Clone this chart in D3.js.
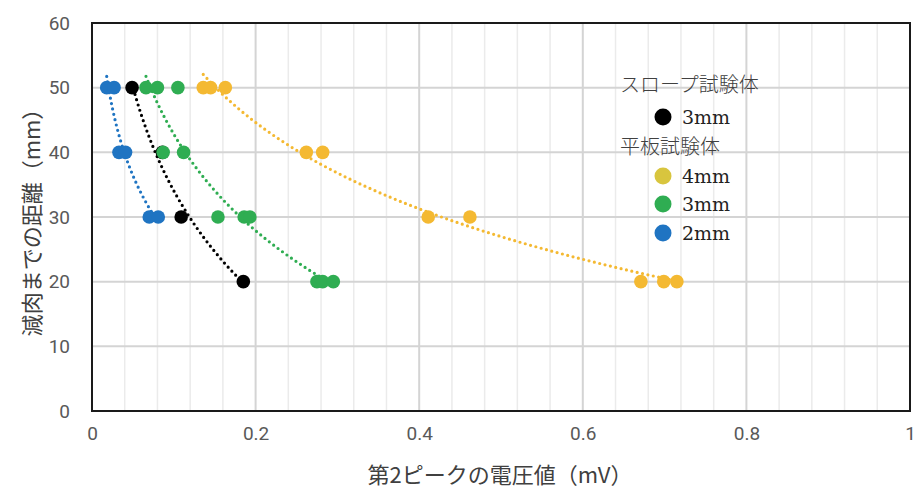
<!DOCTYPE html>
<html>
<head>
<meta charset="utf-8">
<script src="https://cdn.jsdelivr.net/npm/d3@7/dist/d3.min.js"></script>
<style>
  html, body { margin: 0; padding: 0; background: #fff; }
  svg { display: block; }
</style>
</head>
<body>
<svg id="chart" width="915" height="490"></svg>
<script>
// Second-peak voltage (mV) vs. distance to wall thinning (mm)
const xTicks = [0, 0.2, 0.4, 0.6, 0.8, 1];
const yTicks = [0, 10, 20, 30, 40, 50, 60];

// Slope specimen, 3 mm
const slope3X = [0.049, 0.086, 0.109, 0.185];
const slope3Y = [50, 40, 30, 20];

// Flat-plate specimens
const plate4X = [0.136, 0.145, 0.163, 0.262, 0.282, 0.411, 0.462, 0.671, 0.699, 0.715];
const plate4Y = [50, 50, 50, 40, 40, 30, 30, 20, 20, 20];

const plate3X = [0.066, 0.080, 0.105, 0.087, 0.112, 0.154, 0.186, 0.193, 0.275, 0.282, 0.295];
const plate3Y = [50, 50, 50, 40, 40, 30, 30, 30, 20, 20, 20];

const plate2X = [0.018, 0.027, 0.033, 0.041, 0.070, 0.081];
const plate2Y = [50, 50, 40, 40, 30, 30];

const series = [
  { name: "3mm", xs: slope3X, ys: slope3Y, color: "#000000", legend: "#000000" },
  { name: "4mm", xs: plate4X, ys: plate4Y, color: "#f4b932", legend: "#d8c53e" },
  { name: "3mm", xs: plate3X, ys: plate3Y, color: "#2fad52", legend: "#2fad52" },
  { name: "2mm", xs: plate2X, ys: plate2Y, color: "#1f74c2", legend: "#1f74c2" }
];

const svg = d3.select("#chart");
const plotL = 92, plotR = 910, plotT = 23, plotB = 411;

const x = d3.scaleLinear().domain([0, 1]).range([plotL, plotR]);
const y = d3.scaleLinear().domain([0, 60]).range([plotB, plotT]);

// Grid: minor verticals every 0.04, majors every 0.2, horizontals every 10
const minorX = d3.range(1, 25).map(i => i * 0.04).filter(v => Math.abs(v / 0.2 - Math.round(v / 0.2)) > 1e-6);
svg.append("g").selectAll("line").data(minorX).join("line")
  .attr("x1", d => x(d)).attr("x2", d => x(d))
  .attr("y1", plotT).attr("y2", plotB)
  .attr("stroke", "#ebebeb").attr("stroke-width", 1.5);

svg.append("g").selectAll("line").data(xTicks.slice(1, -1)).join("line")
  .attr("x1", d => x(d)).attr("x2", d => x(d))
  .attr("y1", plotT).attr("y2", plotB)
  .attr("stroke", "#d4d4d4").attr("stroke-width", 2);

svg.append("g").selectAll("line").data(yTicks.slice(1, -1)).join("line")
  .attr("x1", plotL).attr("x2", plotR)
  .attr("y1", d => y(d)).attr("y2", d => y(d))
  .attr("stroke", "#d4d4d4").attr("stroke-width", 2);

// Axes (tick labels only)
const xAxis = svg.append("g").attr("transform", `translate(0,${plotB})`)
  .call(d3.axisBottom(x).tickValues(xTicks).tickSize(0).tickPadding(16).tickFormat(d => d === 0 || d === 1 ? d3.format("d")(d) : d3.format(".1f")(d)));
xAxis.select(".domain").remove();
xAxis.selectAll("text").attr("font-family", "Roboto, 'Noto Sans', sans-serif").attr("font-size", 19).attr("fill", "#595959");

const yAxis = svg.append("g").attr("transform", `translate(${plotL},0)`)
  .call(d3.axisLeft(y).tickValues(yTicks).tickSize(0).tickPadding(22).tickFormat(d3.format("d")));
yAxis.select(".domain").remove();
yAxis.selectAll("text").attr("font-family", "Roboto, 'Noto Sans', sans-serif").attr("font-size", 19).attr("fill", "#595959");

// Logarithmic trend lines (least squares on ln x), spanning each series' x range
function logFit(xs, ys) {
  const lx = xs.map(Math.log);
  const mx = d3.mean(lx), my = d3.mean(ys);
  const sxy = d3.sum(lx, (v, i) => (v - mx) * (ys[i] - my));
  const sxx = d3.sum(lx, v => (v - mx) * (v - mx));
  const b = sxy / sxx, a = my - b * mx;
  return v => a + b * Math.log(v);
}

const line = d3.line().x(d => x(d[0])).y(d => y(d[1])).curve(d3.curveLinear);
series.forEach(s => {
  const f = logFit(s.xs, s.ys);
  const [x0, x1] = d3.extent(s.xs);
  const pts = d3.range(0, 81).map(i => { const v = x0 + (x1 - x0) * i / 80; return [v, f(v)]; });
  svg.append("path").datum(pts)
    .attr("d", line)
    .attr("fill", "none")
    .attr("stroke", s.color)
    .attr("stroke-width", 3.2)
    .attr("stroke-linecap", "round")
    .attr("stroke-dasharray", "0 5.5");
});

// Markers
series.forEach(s => {
  svg.append("g").selectAll("circle").data(s.xs.map((v, i) => [v, s.ys[i]])).join("circle")
    .attr("cx", d => x(d[0])).attr("cy", d => y(d[1]))
    .attr("r", 6.8).attr("fill", s.color);
});

// Plot frame
svg.append("rect")
  .attr("x", plotL).attr("y", plotT)
  .attr("width", plotR - plotL).attr("height", plotB - plotT)
  .attr("fill", "none").attr("stroke", "#1a1a1a").attr("stroke-width", 2);

// Legend
const lg = svg.append("g");
const headFont = "'Noto Sans CJK JP', sans-serif";
const itemFont = "'DejaVu Serif', serif";
lg.append("text").attr("x", 620).attr("y", 92).text("スロープ試験体")
  .attr("font-family", headFont).attr("font-size", 20).attr("font-weight", 300).attr("fill", "#404040");
lg.append("text").attr("x", 620).attr("y", 154).text("平板試験体")
  .attr("font-family", headFont).attr("font-size", 20).attr("font-weight", 300).attr("fill", "#404040");

const legendRows = [
  { s: series[0], cy: 117 },
  { s: series[1], cy: 176 },
  { s: series[2], cy: 204 },
  { s: series[3], cy: 233 }
];
legendRows.forEach(r => {
  lg.append("circle").attr("cx", 663).attr("cy", r.cy).attr("r", 8.5).attr("fill", r.s.legend);
  lg.append("text").attr("x", 682).attr("y", r.cy + 7).text(r.s.name)
    .attr("font-family", itemFont).attr("font-size", 19).attr("fill", "#222");
});

// Axis titles
svg.append("text")
  .attr("transform", "translate(40,217) rotate(-90)")
  .attr("text-anchor", "middle")
  .attr("font-family", headFont).attr("font-size", 22).attr("fill", "#404040")
  .text("減肉までの距離（mm）");

svg.append("text")
  .attr("x", 500).attr("y", 483)
  .attr("text-anchor", "middle")
  .attr("font-family", headFont).attr("font-size", 22).attr("fill", "#404040")
  .text("第2ピークの電圧値（mV）");
</script>
</body>
</html>
